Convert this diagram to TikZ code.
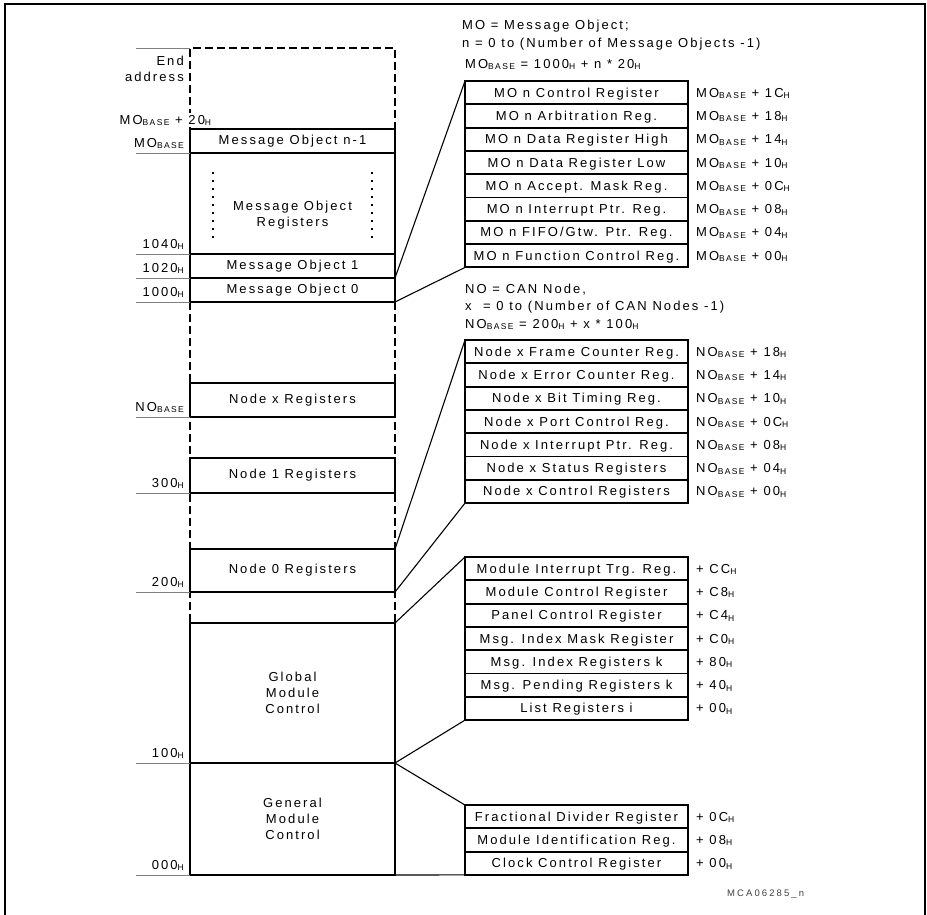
\documentclass[tikz,border=0pt]{standalone}
\usepackage{fontspec}
\setmainfont{Liberation Sans}[LetterSpace=16]
\usepackage{tikz}
\usetikzlibrary{positioning}

\newcommand{\hsub}[1]{\raisebox{-1.5pt}{\fontsize{8.5}{9}\selectfont #1}}

\begin{document}
\begin{tikzpicture}[
  x=1pt, y=-1pt,
  font=\fontsize{13}{16}\selectfont,
  memblk/.style={
    draw, line width=1.9pt, minimum width=205pt, inner sep=0pt,
    outer sep=0pt, align=center
  },
  regrow/.style={
    draw, line width=1.9pt, minimum width=223pt, minimum height=23.3pt,
    inner sep=0pt, outer sep=0pt, text height=10pt, text depth=1pt
  },
  offs/.style={inner sep=1pt, anchor=base west},
  addr/.style={inner sep=1pt, anchor=base east},
  note/.style={inner sep=0pt, anchor=base west, align=left},
  tick/.style={gray, line width=0.8pt},
  gapline/.style={line width=2.6pt, dash pattern=on 8pt off 4pt},
  dotcol/.style={line width=1.5pt, dash pattern=on 1.5pt off 6.5pt},
  link/.style={line width=1.1pt}
]
\useasboundingbox (0,0) rectangle (927,914);
\draw[line width=2pt] (5,4) rectangle (925,925);

% address map
\coordinate (memtop) at (190,48);
\node[memblk, minimum height=24pt] (mon1) at (292.5,141) {Message Object n-1};
\node[memblk, minimum height=101pt, below=0pt of mon1] (moreg) {};
\node[align=center] (moregtxt) at ([yshift=-12pt]moreg.center) {Message Object\\Registers};
\node[memblk, minimum height=24pt, below=0pt of moreg] (mo1) {Message Object 1};
\node[memblk, minimum height=24pt, below=0pt of mo1] (mo0) {Message Object 0};
\node[memblk, minimum height=34pt] (nodex) at (292.5,400) {Node x Registers};
\node[memblk, minimum height=35pt] (node1) at (292.5,475.5) {Node 1 Registers};
\node[memblk, minimum height=43pt] (node0) at (292.5,570.5) {Node 0 Registers};
\node[memblk, minimum height=140pt] (glob) at (292.5,693) {Global\\Module\\Control};
\node[memblk, minimum height=112pt, below=0pt of glob] (gen) {General\\Module\\Control};

\draw[dotcol] ([xshift=23pt,yshift=-19pt]moreg.north west) -- ([xshift=23pt,yshift=11pt]moreg.south west);
\draw[dotcol] ([xshift=-23pt,yshift=-19pt]moreg.north east) -- ([xshift=-23pt,yshift=11pt]moreg.south east);

\draw[gapline] (mon1.north west) -- (memtop) -| (mon1.north east);
\draw[gapline] (mo0.south west) -- (glob.north west);
\draw[gapline] (mo0.south east) -- (glob.north east);

% address ticks
\draw[tick] (memtop) -- ++(-54,0);
\draw[tick] (mon1.south west) -- ++(-54,0);
\draw[tick] (moreg.south west) -- ++(-54,0);
\draw[tick] (mo1.south west) -- ++(-54,0);
\draw[tick] (mo0.south west) -- ++(-54,0);
\draw[tick] (nodex.south west) -- ++(-54,0);
\draw[tick] (node1.south west) -- ++(-54,0);
\draw[tick] (node0.south west) -- ++(-54,0);
\draw[tick] (glob.south west) -- ++(-54,0);
\draw[tick] (gen.south west) -- ++(-54,0);

\node[addr, anchor=north east, align=right] (endaddr) at ([xshift=-5pt,yshift=-7pt]memtop) {End\\address};
\node[inner sep=1.5pt, fill=white, anchor=base west] (mob20) at (118,124) {MO\hsub{BASE} + 20\hsub{H}};
\node[addr] (amob) at ([xshift=-5pt,yshift=6pt]mon1.south west) {MO\hsub{BASE}};
\node[addr] (a1040) at ([xshift=-5pt,yshift=6pt]moreg.south west) {1040\hsub{H}};
\node[addr] (a1020) at ([xshift=-5pt,yshift=6pt]mo1.south west) {1020\hsub{H}};
\node[addr] (a1000) at ([xshift=-5pt,yshift=6pt]mo0.south west) {1000\hsub{H}};
\node[addr] (anob) at ([xshift=-5pt,yshift=6pt]nodex.south west) {NO\hsub{BASE}};
\node[addr] (a300) at ([xshift=-5pt,yshift=6pt]node1.south west) {300\hsub{H}};
\node[addr] (a200) at ([xshift=-5pt,yshift=6pt]node0.south west) {200\hsub{H}};
\node[addr] (a100) at ([xshift=-5pt,yshift=6pt]glob.south west) {100\hsub{H}};
\node[addr] (a000) at ([xshift=-5pt,yshift=6pt]gen.south west) {000\hsub{H}};

% message object registers
\node[note, anchor=north west, font=\fontsize{13}{18}\selectfont] (monote) at (462,19.5) {MO = Message Object;\\n = 0 to (Number of Message Objects -1)};
\node[note] (mobase) at (465,68) {MO\hsub{BASE} = 1000\hsub{H} + n * 20\hsub{H}};
\node[regrow] (motab1) at (576.5,92.65) {MO n Control Register};
\node[regrow, below=0pt of motab1] (motab2) {MO n Arbitration Reg.};
\node[regrow, below=0pt of motab2] (motab3) {MO n Data Register High};
\node[regrow, below=0pt of motab3] (motab4) {MO n Data Register Low};
\node[regrow, below=0pt of motab4] (motab5) {MO n Accept. Mask Reg.};
\node[regrow, below=0pt of motab5] (motab6) {MO n Interrupt Ptr. Reg.};
\node[regrow, below=0pt of motab6] (motab7) {MO n FIFO/Gtw. Ptr. Reg.};
\node[regrow, below=0pt of motab7] (motab8) {MO n Function Control Reg.};
\node[right=7pt of motab1.base east, offs] (mooff1) {MO\hsub{BASE} + 1C\hsub{H}};
\node[right=7pt of motab2.base east, offs] (mooff2) {MO\hsub{BASE} + 18\hsub{H}};
\node[right=7pt of motab3.base east, offs] (mooff3) {MO\hsub{BASE} + 14\hsub{H}};
\node[right=7pt of motab4.base east, offs] (mooff4) {MO\hsub{BASE} + 10\hsub{H}};
\node[right=7pt of motab5.base east, offs] (mooff5) {MO\hsub{BASE} + 0C\hsub{H}};
\node[right=7pt of motab6.base east, offs] (mooff6) {MO\hsub{BASE} + 08\hsub{H}};
\node[right=7pt of motab7.base east, offs] (mooff7) {MO\hsub{BASE} + 04\hsub{H}};
\node[right=7pt of motab8.base east, offs] (mooff8) {MO\hsub{BASE} + 00\hsub{H}};

% node registers
\node[note, anchor=north west, font=\fontsize{13}{17.5}\selectfont] (nonote) at (465,283.5) {NO = CAN Node,\\x\ \ = 0 to (Number of CAN Nodes -1)\\NO\hsub{BASE} = 200\hsub{H} + x * 100\hsub{H}};
\node[regrow] (notab1) at (576.5,351.65) {Node x Frame Counter Reg.};
\node[regrow, below=0pt of notab1] (notab2) {Node x Error Counter Reg.};
\node[regrow, below=0pt of notab2] (notab3) {Node x Bit Timing Reg.};
\node[regrow, below=0pt of notab3] (notab4) {Node x Port Control Reg.};
\node[regrow, below=0pt of notab4] (notab5) {Node x Interrupt Ptr. Reg.};
\node[regrow, below=0pt of notab5] (notab6) {Node x Status Registers};
\node[regrow, below=0pt of notab6] (notab7) {Node x Control Registers};
\node[right=7pt of notab1.base east, offs] (nooff1) {NO\hsub{BASE} + 18\hsub{H}};
\node[right=7pt of notab2.base east, offs] (nooff2) {NO\hsub{BASE} + 14\hsub{H}};
\node[right=7pt of notab3.base east, offs] (nooff3) {NO\hsub{BASE} + 10\hsub{H}};
\node[right=7pt of notab4.base east, offs] (nooff4) {NO\hsub{BASE} + 0C\hsub{H}};
\node[right=7pt of notab5.base east, offs] (nooff5) {NO\hsub{BASE} + 08\hsub{H}};
\node[right=7pt of notab6.base east, offs] (nooff6) {NO\hsub{BASE} + 04\hsub{H}};
\node[right=7pt of notab7.base east, offs] (nooff7) {NO\hsub{BASE} + 00\hsub{H}};

% global module control
\node[regrow] (gltab1) at (576.5,568.65) {Module Interrupt Trg. Reg.};
\node[regrow, below=0pt of gltab1] (gltab2) {Module Control Register};
\node[regrow, below=0pt of gltab2] (gltab3) {Panel Control Register};
\node[regrow, below=0pt of gltab3] (gltab4) {Msg. Index Mask Register};
\node[regrow, below=0pt of gltab4] (gltab5) {Msg. Index Registers k};
\node[regrow, below=0pt of gltab5] (gltab6) {Msg. Pending Registers k};
\node[regrow, below=0pt of gltab6] (gltab7) {List Registers i};
\node[right=7pt of gltab1.base east, offs] (gloff1) {+ CC\hsub{H}};
\node[right=7pt of gltab2.base east, offs] (gloff2) {+ C8\hsub{H}};
\node[right=7pt of gltab3.base east, offs] (gloff3) {+ C4\hsub{H}};
\node[right=7pt of gltab4.base east, offs] (gloff4) {+ C0\hsub{H}};
\node[right=7pt of gltab5.base east, offs] (gloff5) {+ 80\hsub{H}};
\node[right=7pt of gltab6.base east, offs] (gloff6) {+ 40\hsub{H}};
\node[right=7pt of gltab7.base east, offs] (gloff7) {+ 00\hsub{H}};

% general module control
\node[regrow] (getab1) at (576.5,816.65) {Fractional Divider Register};
\node[regrow, below=0pt of getab1] (getab2) {Module Identification Reg.};
\node[regrow, below=0pt of getab2] (getab3) {Clock Control Register};
\node[right=7pt of getab1.base east, offs] (geoff1) {+ 0C\hsub{H}};
\node[right=7pt of getab2.base east, offs] (geoff2) {+ 08\hsub{H}};
\node[right=7pt of getab3.base east, offs] (geoff3) {+ 00\hsub{H}};

\node[anchor=base west, inner sep=0pt, text=darkgray, font=\fontsize{9.5}{11}\selectfont\addfontfeature{LetterSpace=22}] (figid) at (727,896) {MCA06285\_n};

% expansion lines
\draw[link] (mo0.north east) -- (motab1.north west);
\draw[link] (mo0.south east) -- (motab8.south west);
\draw[link] (node0.north east) -- (notab1.north west);
\draw[link] (node0.south east) -- (notab7.south west);
\draw[link] (glob.north east) -- (gltab1.north west);
\draw[link] (glob.south east) -- (gltab7.south west);
\draw[link] (gen.north east) -- (getab1.north west);
\draw[link] (gen.south east) -- (getab3.south west);

\end{tikzpicture}
\end{document}
